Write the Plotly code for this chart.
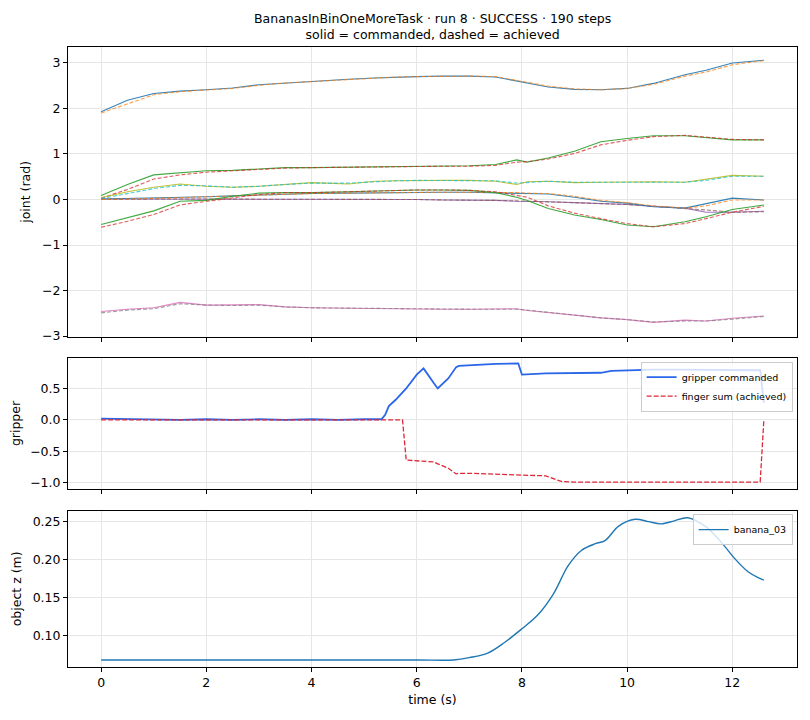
import plotly.graph_objects as go

# time stamps (s) the joint traces were read at
t_joint = [0, 0.5, 1.0, 1.5, 2.0, 2.5, 3.0, 3.5, 4.0, 4.7, 5.2, 5.6, 6.0, 6.5,
           7.0, 7.5, 7.9, 8.1, 8.5, 9.0, 9.5, 10.0, 10.5, 11.1, 11.5, 12.0, 12.6]

# commanded joints (rad)
j0_cmd = [1.93, 2.18, 2.33, 2.38, 2.41, 2.45, 2.52, 2.56, 2.59, 2.64, 2.67, 2.69, 2.70, 2.71,
          2.71, 2.69, 2.60, 2.55, 2.47, 2.42, 2.41, 2.44, 2.55, 2.74, 2.84, 3.00, 3.06]
j1_cmd = [0.09, 0.33, 0.54, 0.58, 0.63, 0.64, 0.67, 0.70, 0.70, 0.71, 0.72, 0.73, 0.73, 0.73,
          0.74, 0.77, 0.87, 0.82, 0.91, 1.06, 1.27, 1.34, 1.40, 1.40, 1.36, 1.31, 1.31]
j2_cmd = [0.01, 0.01, 0.01, 0.01, 0.01, 0.01, 0.00, 0.00, 0.00, 0.00, 0.00, 0.00, 0.00, -0.01,
          -0.01, -0.02, -0.04, -0.04, -0.05, -0.07, -0.09, -0.11, -0.15, -0.19, -0.28, -0.28, -0.26]
j3_cmd = [-2.46, -2.41, -2.38, -2.26, -2.32, -2.32, -2.31, -2.36, -2.38, -2.39, -2.40, -2.40, -2.40, -2.41,
          -2.41, -2.41, -2.40, -2.44, -2.48, -2.54, -2.60, -2.64, -2.70, -2.65, -2.67, -2.61, -2.56]
j4_cmd = [0.04, 0.17, 0.27, 0.34, 0.29, 0.27, 0.29, 0.33, 0.37, 0.34, 0.40, 0.41, 0.42, 0.42,
          0.42, 0.40, 0.33, 0.39, 0.40, 0.37, 0.38, 0.39, 0.39, 0.38, 0.44, 0.53, 0.51]
j5_cmd = [0.01, 0.02, 0.03, 0.05, 0.06, 0.08, 0.10, 0.12, 0.13, 0.14, 0.15, 0.15, 0.16, 0.16,
          0.16, 0.15, 0.14, 0.13, 0.12, 0.05, -0.04, -0.08, -0.16, -0.19, -0.09, 0.03, -0.01]
j6_cmd = [-0.55, -0.40, -0.25, -0.04, -0.02, 0.07, 0.14, 0.15, 0.15, 0.17, 0.19, 0.20, 0.21, 0.21,
          0.20, 0.15, 0.05, -0.02, -0.20, -0.34, -0.44, -0.56, -0.60, -0.49, -0.38, -0.22, -0.12]

# achieved joints (rad)
j0_ach = [1.90, 2.10, 2.30, 2.37, 2.40, 2.44, 2.51, 2.56, 2.59, 2.64, 2.66, 2.69, 2.70, 2.71,
          2.71, 2.70, 2.62, 2.57, 2.49, 2.43, 2.41, 2.44, 2.53, 2.71, 2.80, 2.96, 3.05]
j1_ach = [0.03, 0.22, 0.45, 0.54, 0.60, 0.63, 0.65, 0.69, 0.70, 0.71, 0.72, 0.73, 0.73, 0.73,
          0.73, 0.75, 0.82, 0.83, 0.89, 1.01, 1.20, 1.30, 1.38, 1.41, 1.37, 1.32, 1.31]
j2_ach = [0.00, 0.01, 0.01, 0.01, 0.01, 0.01, 0.00, 0.00, 0.00, 0.00, 0.00, 0.00, 0.00, -0.01,
          -0.01, -0.02, -0.03, -0.04, -0.05, -0.07, -0.09, -0.11, -0.15, -0.19, -0.23, -0.28, -0.27]
j3_ach = [-2.49, -2.43, -2.40, -2.29, -2.32, -2.33, -2.32, -2.36, -2.38, -2.39, -2.40, -2.40, -2.40, -2.41,
          -2.41, -2.41, -2.41, -2.43, -2.48, -2.54, -2.60, -2.64, -2.69, -2.67, -2.67, -2.63, -2.57]
j4_ach = [0.02, 0.13, 0.24, 0.31, 0.30, 0.27, 0.29, 0.33, 0.36, 0.36, 0.39, 0.41, 0.42, 0.42,
          0.42, 0.41, 0.36, 0.37, 0.40, 0.38, 0.38, 0.39, 0.39, 0.38, 0.42, 0.51, 0.51]
j5_ach = [0.00, 0.01, 0.02, 0.04, 0.06, 0.08, 0.10, 0.12, 0.13, 0.14, 0.15, 0.15, 0.16, 0.16,
          0.16, 0.16, 0.15, 0.14, 0.13, 0.07, -0.02, -0.07, -0.14, -0.19, -0.14, -0.01, -0.01]
j6_ach = [-0.61, -0.48, -0.33, -0.12, -0.04, 0.04, 0.11, 0.15, 0.15, 0.17, 0.19, 0.20, 0.21, 0.21,
          0.20, 0.17, 0.10, 0.05, -0.14, -0.30, -0.42, -0.53, -0.60, -0.53, -0.42, -0.28, -0.15]

# gripper
t_grip = [0, 0.5, 1.0, 1.5, 2.0, 2.5, 3.0, 3.5, 4.0, 4.5, 5.0,
          5.33, 5.4, 5.47, 5.6, 5.73,
          5.8, 6.0, 6.13, 6.33, 6.4, 6.6, 6.75, 6.8, 7.0, 7.5, 7.93, 8.0,
          8.45, 8.75, 9.0, 9.5, 9.7, 10.0, 10.5, 11.0, 11.5, 12.0, 12.53, 12.6]
grip_cmd = [0.02, 0.01, 0.01, 0.0, 0.01, 0.0, 0.01, 0.0, 0.01, 0.0, 0.01,
            0.01, 0.08, 0.22, 0.32, 0.44,
            0.50, 0.72, 0.82, 0.58, 0.50, 0.66, 0.84, 0.86, 0.87, 0.89, 0.90, 0.72,
            0.74, 0.74, 0.74, 0.75, 0.78, 0.79, 0.80, 0.80, 0.80, 0.79, 0.79, 0.27]
finger_sum = [0, 0, 0, 0, 0, 0, 0, 0, 0, 0, 0,
              0, 0, 0, 0, 0,
              -0.64, -0.65, -0.66, -0.67, -0.70, -0.77, -0.86, -0.85, -0.85, -0.87, -0.88, -0.88,
              -0.89, -0.98, -0.99, -0.99, -0.99, -0.99, -0.99, -0.99, -0.99, -0.99, -0.99, 0.0]

# object height
t_obj = [0, 2, 4, 6, 6.7, 7.0, 7.35, 7.67, 8.0, 8.3, 8.6, 8.88, 9.13, 9.4,
         9.58, 9.84, 10.15, 10.4, 10.65, 10.9, 11.15, 11.5, 11.8, 12.05, 12.3, 12.5, 12.6]
banana_z = [0.068, 0.068, 0.068, 0.068, 0.068, 0.071, 0.077, 0.091, 0.109, 0.127, 0.155, 0.192, 0.212, 0.221,
            0.225, 0.244, 0.253, 0.250, 0.247, 0.251, 0.255, 0.243, 0.222, 0.201, 0.184, 0.176, 0.173]

cmd = [j0_cmd, j1_cmd, j2_cmd, j3_cmd, j4_cmd, j5_cmd, j6_cmd]
ach = [j0_ach, j1_ach, j2_ach, j3_ach, j4_ach, j5_ach, j6_ach]

tab10 = ['#1f77b4', '#ff7f0e', '#2ca02c', '#d62728', '#9467bd',
         '#8c564b', '#e377c2', '#7f7f7f', '#bcbd22', '#17becf']

fig = go.Figure()
k = 0
for c, a in zip(cmd, ach):
    fig.add_trace(go.Scatter(x=t_joint, y=c, mode='lines', xaxis='x', yaxis='y',
                             line=dict(color=tab10[k % 10], width=1.1), opacity=0.9,
                             showlegend=False))
    k += 1
    fig.add_trace(go.Scatter(x=t_joint, y=a, mode='lines', xaxis='x', yaxis='y',
                             line=dict(color=tab10[k % 10], width=1.1, dash='4px,2px'), opacity=0.75,
                             showlegend=False))
    k += 1

fig.add_trace(go.Scatter(x=t_grip, y=grip_cmd, mode='lines', name='gripper commanded',
                         xaxis='x2', yaxis='y2', legend='legend',
                         line=dict(color='#2a66e8', width=1.8)))
fig.add_trace(go.Scatter(x=t_grip, y=finger_sum, mode='lines', name='finger sum (achieved)',
                         xaxis='x2', yaxis='y2', legend='legend',
                         line=dict(color='#dc2838', width=1.3, dash='5px,2px')))

fig.add_trace(go.Scatter(x=t_obj, y=banana_z, mode='lines', name='banana_03',
                         xaxis='x3', yaxis='y3', legend='legend2', line_shape='spline',
                         line=dict(color='#1f77b4', width=1.4)))

font = dict(family='DejaVu Sans', size=12.5, color='black')
axis_common = dict(showline=True, mirror=True, linecolor='black', linewidth=1,
                   ticks='outside', ticklen=4, tickwidth=1, tickcolor='black',
                   showgrid=True, gridcolor='#e6e6e6', gridwidth=0.8, zeroline=False,
                   tickfont=dict(family='DejaVu Sans', size=12.5, color='black'))
x_common = dict(axis_common, range=[-0.63, 13.23], tickvals=[0, 2, 4, 6, 8, 10, 12], domain=[0, 1])
legend_style = dict(xanchor='right', yanchor='top',
                    bgcolor='rgba(255,255,255,0.8)', bordercolor='#cccccc', borderwidth=1,
                    font=dict(family='DejaVu Sans', size=9.5, color='black'),
                    tracegroupgap=0, itemwidth=30)

# the page body adds an 8px offset, so the figure is 8px smaller than the window
fig.update_layout(
    width=802, height=712,
    margin=dict(l=60, r=13, t=39, b=53, autoexpand=False),
    paper_bgcolor='white', plot_bgcolor='white',
    font=font,
    xaxis=dict(x_common, anchor='y', showticklabels=False),
    xaxis2=dict(x_common, anchor='y2', showticklabels=False),
    xaxis3=dict(x_common, anchor='y3',
                title=dict(text='time (s)', font=dict(family='DejaVu Sans', size=12.5), standoff=6)),
    yaxis=dict(axis_common, domain=[0.5327, 1.0], range=[-3.015, 3.35], anchor='x',
               tickvals=[-3, -2, -1, 0, 1, 2, 3],
               title=dict(text='joint (rad)', font=dict(family='DejaVu Sans', size=12.5), standoff=8)),
    yaxis2=dict(axis_common, domain=[0.2866, 0.4989], range=[-1.105, 0.99], anchor='x2',
                tickvals=[-1.0, -0.5, 0.0, 0.5], tickformat='.1f',
                title=dict(text='gripper', font=dict(family='DejaVu Sans', size=12.5), standoff=8)),
    yaxis3=dict(axis_common, domain=[0.0, 0.2521], range=[0.0587, 0.2643], anchor='x3',
                tickvals=[0.10, 0.15, 0.20, 0.25], tickformat='.2f',
                title=dict(text='object z (m)', font=dict(family='DejaVu Sans', size=12.5), standoff=8)),
    legend=dict(legend_style, x=0.994, y=0.4925),
    legend2=dict(legend_style, x=0.994, y=0.2465),
    annotations=[dict(text='BananasInBinOneMoreTask · run 8 · SUCCESS · 190 steps<br>'
                           'solid = commanded, dashed = achieved',
                      x=0.5, y=1.0, xref='paper', yref='paper', xanchor='center', yanchor='bottom',
                      yshift=3, showarrow=False, align='center',
                      font=dict(family='DejaVu Sans', size=12.5, color='black'))],
)

fig.write_html("out.html", config={'displayModeBar': False})
